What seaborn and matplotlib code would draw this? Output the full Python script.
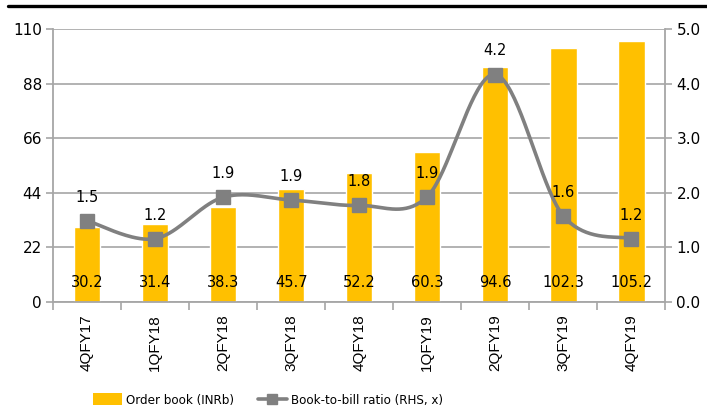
import numpy as np
import matplotlib
matplotlib.use("Agg")
import matplotlib.pyplot as plt
from matplotlib.patches import Patch
from matplotlib.lines import Line2D
from matplotlib.font_manager import FontProperties
import seaborn as sns

quarters = ["4QFY17", "1QFY18", "2QFY18", "3QFY18", "4QFY18",
            "1QFY19", "2QFY19", "3QFY19", "4QFY19"]
order_book = [30.2, 31.4, 38.3, 45.7, 52.2, 60.3, 94.6, 102.3, 105.2]
book_to_bill = [1.49, 1.16, 1.92, 1.87, 1.77, 1.93, 4.17, 1.58, 1.16]

sns.set_theme(style="white")
plt.rcParams["font.family"] = ["DejaVu Sans"]
plt.rcParams["text.color"] = "black"
plt.rcParams["xtick.labelcolor"] = "black"
plt.rcParams["ytick.labelcolor"] = "black"

YELLOW = "#FFC000"
GREY = "#808080"
AXGREY = "#A6A6A6"


def smooth(y, n=40):
    # Excel-style smoothed line (bezier through the points)
    p = np.column_stack([np.arange(len(y), dtype=float), np.asarray(y, float)])
    p = np.vstack([p[0], p, p[-1]])
    t = np.linspace(0, 1, n)[:, None]
    out = []
    for i in range(len(y) - 1):
        p0, p1, p2, p3 = p[i], p[i + 1], p[i + 2], p[i + 3]
        b1 = p1 + (p2 - p0) / 6
        b2 = p2 - (p3 - p1) / 6
        out.append((1 - t) ** 3 * p1 + 3 * (1 - t) ** 2 * t * b1
                   + 3 * (1 - t) * t ** 2 * b2 + t ** 3 * p2)
    out = np.vstack(out)
    return out[:, 0], out[:, 1]


fig = plt.figure(figsize=(7.07, 4.12), dpi=100)
ax = fig.add_axes([0.075, 0.267, 0.866, 0.662])

sns.barplot(x=quarters, y=order_book, color=YELLOW, saturation=1, width=0.39, ax=ax)
ax.set_xlim(-0.5, 8.5)
ax.set_ylim(0, 110)
ax.set_yticks(np.arange(0, 111, 22))
ax.yaxis.grid(True, color=AXGREY, lw=1.2)
ax.set_axisbelow(True)
ax.set_xlabel("")
ax.set_ylabel("")

ax.set_xticks(np.arange(-0.5, 9, 1))
ax.set_xticklabels([])
ax.set_xticks(range(9), minor=True)
ax.set_xticklabels(quarters, minor=True, rotation=90,
                   fontfamily="Liberation Sans", fontsize=11)
ax.tick_params(axis="x", which="minor", length=0, pad=9, bottom=True)
ax.tick_params(axis="x", which="major", length=6, width=1.2, color=AXGREY, bottom=True)
ax.tick_params(axis="y", left=True, length=5, width=1.2, color=AXGREY,
               labelsize=11, pad=3)

for s in ["left", "bottom"]:
    ax.spines[s].set_color(AXGREY)
    ax.spines[s].set_linewidth(1.3)
ax.spines["top"].set_visible(False)
ax.spines["right"].set_visible(False)

for i, v in enumerate(order_book):
    ax.text(i, 7.7, f"{v:.1f}", ha="center", va="center", fontsize=10.5)

ax2 = ax.twinx()
ax2.set_ylim(0, 5)
ax2.set_yticks(np.arange(0, 5.1, 1))
ax2.set_yticklabels([f"{v:.1f}" for v in np.arange(0, 5.1, 1)])
ax2.tick_params(axis="y", right=True, length=5, width=1.2, color=AXGREY,
                labelsize=11, pad=3)
for s in ["left", "top", "bottom"]:
    ax2.spines[s].set_visible(False)
ax2.spines["right"].set_color(AXGREY)
ax2.spines["right"].set_linewidth(1.3)
ax2.grid(False)

xs, ys = smooth(book_to_bill)
ax2.plot(xs, ys, color=GREY, lw=2.6, solid_capstyle="round")
ax2.plot(range(9), book_to_bill, ls="none", marker="s", ms=10, color=GREY)
for i, v in enumerate(book_to_bill):
    ax2.annotate(f"{v:.1f}", (i, v), xytext=(0, 17), textcoords="offset points",
                 ha="center", va="center", fontsize=10.5)

handles = [Patch(facecolor=YELLOW, edgecolor="none"),
           Line2D([], [], color=GREY, lw=2.6, marker="s", ms=7)]
fig.legend(handles, ["Order book (INRb)", "Book-to-bill ratio (RHS, x)"],
           loc="center", bbox_to_anchor=(268 / 707, 12 / 412), ncol=2,
           frameon=False, prop=FontProperties(family="DejaVu Sans", size=9.5, stretch="condensed"),
           handlelength=2.2, handleheight=1.0,
           handletextpad=0.3, columnspacing=1.8)

fig.add_artist(Line2D([8 / 707, 1], [1 - 6 / 412] * 2, color="black", lw=2.4,
                      transform=fig.transFigure))

fig.savefig("out.png", dpi=100)
